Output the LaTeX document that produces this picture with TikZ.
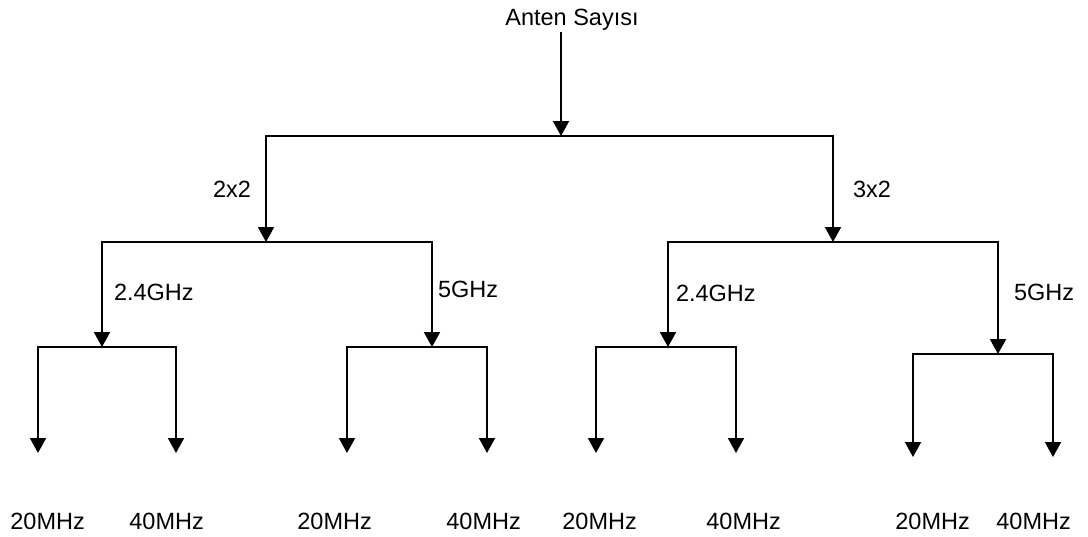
\documentclass[tikz,border=0pt]{standalone}
\usepackage{fontspec}
\setmainfont{Liberation Sans}
\usetikzlibrary{arrows.meta, positioning}

\begin{document}
\begin{tikzpicture}[
        x=0.5pt, y=-0.5pt,
        font=\fontsize{11.75}{14}\selectfont,
        every node/.style={inner sep=0pt},
        lbl/.style={anchor=base west},
        flow/.style={-{Triangle[width=8pt, length=7.5pt]}, line width=1pt}
    ]
    \useasboundingbox (0,0) rectangle (1088,536);

    \node[lbl] (anten) at (505,25) {Anten Sayısı};

    \coordinate (top) at (561,32);
    \coordinate (root) at (561,136);
    \coordinate (s22) at (266,242);
    \coordinate (s32) at (833,242);
    \coordinate (s22a) at (102,347);
    \coordinate (s22b) at (432,347);
    \coordinate (s32a) at (668,347);
    \coordinate (s32b) at (998,354);
    \coordinate (e1) at (38,453);
    \coordinate (e2) at (176,453);
    \coordinate (e3) at (347,453);
    \coordinate (e4) at (487,453);
    \coordinate (e5) at (596,453);
    \coordinate (e6) at (736,453);
    \coordinate (e7) at (913,457);
    \coordinate (e8) at (1053,457);

    \node[lbl] (m1) at (10,529) {20MHz};
    \node[lbl] (m2) at (129,529) {40MHz};
    \node[lbl] (m3) at (297,529) {20MHz};
    \node[lbl] (m4) at (446,529) {40MHz};
    \node[lbl] (m5) at (562,529) {20MHz};
    \node[lbl] (m6) at (706,529) {40MHz};
    \node[lbl] (m7) at (895,529) {20MHz};
    \node[lbl] (m8) at (996,529) {40MHz};

    \draw[flow] (top) -- (root);
    \draw[flow] (root) -| node[pos=0.75, left=7pt] (l22) {2x2} (s22);
    \draw[flow] (root) -| node[pos=0.75, right=9.5pt] (l32) {3x2} (s32);

    \draw[flow] (s22) -| node[pos=0.75, right=5.5pt, yshift=1pt] (l22a) {2.4GHz} (s22a);
    \draw[flow] (s22) -| node[pos=0.75, right=2.5pt, yshift=2.5pt] (l22b) {5GHz} (s22b);
    \draw[flow] (s32) -| node[pos=0.75, right=3.5pt, yshift=0.75pt] (l32a) {2.4GHz} (s32a);
    \draw[flow] (s32) -| node[pos=0.75, right=7.5pt, yshift=2.75pt] (l32b) {5GHz} (s32b);

    \draw[flow] (s22a) -| (e1);
    \draw[flow] (s22a) -| (e2);
    \draw[flow] (s22b) -| (e3);
    \draw[flow] (s22b) -| (e4);
    \draw[flow] (s32a) -| (e5);
    \draw[flow] (s32a) -| (e6);
    \draw[flow] (s32b) -| (e7);
    \draw[flow] (s32b) -| (e8);

\end{tikzpicture}
\end{document}
